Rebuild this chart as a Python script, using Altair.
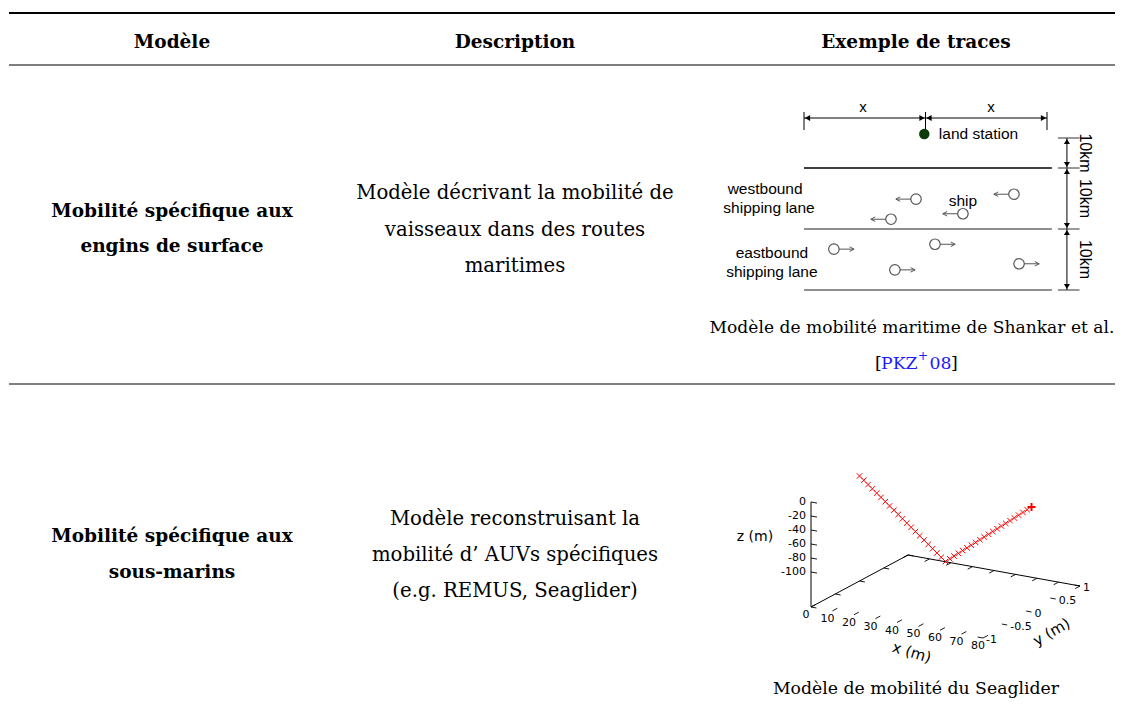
import altair as alt
import pandas as pd

MARGIN = 8
CHART_W = 1107
CHART_H = 690

SERIF = "DejaVu Serif"
SANS = "Liberation Sans"
PLOT_FONT = "DejaVu Sans"

# ---------------- table content ----------------
HEADERS = ["Modèle", "Description", "Exemple de traces"]
MODEL_ROW1 = ["Mobilité spécifique aux", "engins de surface"]
MODEL_ROW2 = ["Mobilité spécifique aux", "sous-marins"]
DESC_ROW1 = ["Modèle décrivant la mobilité de", "vaisseaux dans des routes", "maritimes"]
DESC_ROW2 = ["Modèle reconstruisant la", "mobilité d’ AUVs spécifiques", "(e.g. REMUS, Seaglider)"]
CAPTION_ROW1 = "Modèle de mobilité maritime de Shankar et al."
CITATION = ["[", "PKZ", "+", "08", "]"]
CAPTION_ROW2 = "Modèle de mobilité du Seaglider"

# ---------------- maritime diagram (schematic units) ----------------
# x: 0..100 across the diagram (land station in the middle), y: km below the first lane line
LANE_LINES_KM = [0, 10, 20]
DIM_TICKS_KM = [-10, 0, 10, 20]
DIM_SEGMENTS = ["10km", "10km", "10km"]
X_DIM_MARKS = [0, 50, 100]
X_DIM_LABELS = ["x", "x"]
WEST_SHIP_X = [46.1, 35.8, 86.4, 65.4]
WEST_SHIP_Y = [5.1, 8.4, 4.3, 7.5]
EAST_SHIP_X = [12.3, 53.9, 37.4, 88.5]
EAST_SHIP_Y = [13.3, 12.5, 16.7, 15.7]
LANE_NAMES = ["westbound", "shipping lane", "eastbound", "shipping lane"]
STATION_LABEL = "land station"
SHIP_LABEL = "ship"

# ---------------- seaglider trajectory ----------------
GLIDER_X = [0, 2, 4, 6, 8, 10, 12, 14, 16, 18, 20, 22, 24, 26, 28, 30, 32, 34, 36, 38, 40,
            42, 44, 46, 48, 50, 52, 54, 56, 58, 60, 62, 64, 66, 68, 70, 72, 74, 76, 78, 80]
GLIDER_Y = [0, 0, 0, 0, 0, 0, 0, 0, 0, 0, 0, 0, 0, 0, 0, 0, 0, 0, 0, 0, 0,
            0, 0, 0, 0, 0, 0, 0, 0, 0, 0, 0, 0, 0, 0, 0, 0, 0, 0, 0, 0]
GLIDER_Z = [0, -5, -10, -15, -20, -25, -30, -35, -40, -45, -50, -55, -60, -65, -70, -75, -80,
            -85, -90, -95, -100, -95, -90, -85, -80, -75, -70, -65, -60, -55, -50, -45, -40,
            -35, -30, -25, -20, -15, -10, -5, 0]
X_TICKS = [0, 10, 20, 30, 40, 50, 60, 70, 80]
Y_TICKS = [-1, -0.5, 0, 0.5, 1]
Z_TICKS = [0, -20, -40, -60, -80, -100]
AXIS_TITLES = ["x (m)", "y (m)", "z (m)"]

# ================= layout (page pixel positions) =================
COL_X = [172, 515, 916]
CAPTION1_X = 912
HEADER_BASE = 48
MODEL_BASE = [[217, 252], [542, 578]]
DESC_BASE = [[199, 235.5, 272], [525, 561, 597]]
CAPTION_BASE = [333, 694]
CITE_BASE = 369
CITE_SUP_BASE = 360
CITE_LEFT = [875, 881, 918, 929.5, 951]
TABLE_RULES = [(13, 2.0), (65, 1.2), (384, 1.2)]
RULE_X = (9, 1123)


def px(field):
    return alt.X(field, type="quantitative", axis=None,
                 scale=alt.Scale(domain=[MARGIN, MARGIN + CHART_W], range=[0, CHART_W], nice=False, zero=False))


def py(field):
    return alt.Y(field, type="quantitative", axis=None,
                 scale=alt.Scale(domain=[MARGIN, MARGIN + CHART_H], range=[0, CHART_H], nice=False, zero=False))


def page_text(rows, size, weight="normal", color="black", align="center"):
    df = pd.DataFrame(rows, columns=["text", "px", "py"])
    return alt.Chart(df).mark_text(font=SERIF, fontSize=size, fontWeight=weight, color=color,
                                   align=align, baseline="alphabetic").encode(
        x=px("px"), y=py("py"), text="text:N")


bold_rows = [(h, COL_X[i], HEADER_BASE) for i, h in enumerate(HEADERS)]
for lines, bases in zip([MODEL_ROW1, MODEL_ROW2], MODEL_BASE):
    bold_rows += [(t, COL_X[0], b) for t, b in zip(lines, bases)]
desc_rows = []
for lines, bases in zip([DESC_ROW1, DESC_ROW2], DESC_BASE):
    desc_rows += [(t, COL_X[1], b) for t, b in zip(lines, bases)]
caption1_rows = [(CAPTION_ROW1, CAPTION1_X, CAPTION_BASE[0])]
caption2_rows = [(CAPTION_ROW2, COL_X[2], CAPTION_BASE[1])]

cite_black = [(CITATION[0], CITE_LEFT[0], CITE_BASE), (CITATION[4], CITE_LEFT[4], CITE_BASE)]
cite_blue = [(CITATION[1], CITE_LEFT[1], CITE_BASE), (CITATION[3], CITE_LEFT[3], CITE_BASE)]
cite_sup = [(CITATION[2], CITE_LEFT[2], CITE_SUP_BASE)]

rules_df = pd.DataFrame([(RULE_X[0], RULE_X[1], y, w) for y, w in TABLE_RULES], columns=["x1", "x2", "y", "w"])
thick = alt.Chart(rules_df[rules_df.w > 1.5]).mark_rule(color="black", strokeWidth=2.0).encode(
    x=px("x1"), x2="x2", y=py("y"))
thin = alt.Chart(rules_df[rules_df.w <= 1.5]).mark_rule(color="black", strokeWidth=1.2).encode(
    x=px("x1"), x2="x2", y=py("y"))

page = alt.layer(
    thick, thin,
    page_text(bold_rows, 18.5, weight="bold"),
    page_text(desc_rows, 19.7),
    page_text(caption1_rows, 17.1),
    page_text(caption2_rows, 17.3),
    page_text(cite_black, 17.3, align="left"),
    page_text(cite_blue, 17.3, color="#1a1aff", align="left"),
    page_text(cite_sup, 12, color="#1a1aff", align="left"),
)

# ================= maritime diagram =================
MX_SCALE = alt.Scale(domain=[0, 100], range=[796, 1039], nice=False, zero=False)
MY_SCALE = alt.Scale(domain=[-14, -10, 0, 10, 20], range=[110, 130, 160, 221, 282], nice=False, zero=False)
DIM_LINE_Y = -14
DIM_TICK_Y = (-15.2, -11.6)
X_LABEL_Y = -16.2
X_LABEL_X = [24.3, 77]
STATION = (49.5, -10.8)
STATION_TEXT_X = 55.5
LANE_END_X = 102
VDIM_X = 108.2
VDIM_TICK_X = (104.5, 113.4)
VDIM_LABEL_X = 115.5
LANE_LABEL_POS = [(-16, 3.4), (-14.4, 6.6), (-13.2, 13.9), (-13.2, 17.0)]
SHIP_LABEL_POS = (65.4, 5.4)


def mx(f):
    return alt.X(f, type="quantitative", axis=None, scale=MX_SCALE)


def my(f):
    return alt.Y(f, type="quantitative", axis=None, scale=MY_SCALE)


lane_df = pd.DataFrame({"y": LANE_LINES_KM, "x1": 0, "x2": LANE_END_X})
lane_first = alt.Chart(lane_df[lane_df.y == LANE_LINES_KM[0]]).mark_rule(color="black", strokeWidth=1.6).encode(
    x=mx("x1"), x2="x2", y=my("y"))
lane_rest = alt.Chart(lane_df[lane_df.y != LANE_LINES_KM[0]]).mark_rule(color="#6a6a6a", strokeWidth=1.3).encode(
    x=mx("x1"), x2="x2", y=my("y"))

hdim_df = pd.DataFrame({"x1": [X_DIM_MARKS[0]], "x2": [X_DIM_MARKS[-1]], "y": [DIM_LINE_Y]})
hdim = alt.Chart(hdim_df).mark_rule(color="black", strokeWidth=1).encode(x=mx("x1"), x2="x2", y=my("y"))
hdim_ticks_df = pd.DataFrame({"x": X_DIM_MARKS, "y1": DIM_TICK_Y[0], "y2": DIM_TICK_Y[1]})
hdim_ticks = alt.Chart(hdim_ticks_df).mark_rule(color="black", strokeWidth=1).encode(
    x=mx("x"), y=my("y1"), y2="y2")
left_tips = pd.DataFrame({"x": X_DIM_MARKS[:2], "y": DIM_LINE_Y})
right_tips = pd.DataFrame({"x": X_DIM_MARKS[1:], "y": DIM_LINE_Y})
hdim_left = alt.Chart(left_tips).mark_point(shape="triangle-left", filled=True, color="black", size=36,
                                            opacity=1, xOffset=3.5).encode(x=mx("x"), y=my("y"))
hdim_right = alt.Chart(right_tips).mark_point(shape="triangle-right", filled=True, color="black", size=36,
                                              opacity=1, xOffset=-3.5).encode(x=mx("x"), y=my("y"))
xlab_df = pd.DataFrame({"text": X_DIM_LABELS, "x": X_LABEL_X, "y": X_LABEL_Y})
xlab = alt.Chart(xlab_df).mark_text(font=SANS, fontSize=15, align="center", baseline="middle").encode(
    x=mx("x"), y=my("y"), text="text:N")

station_df = pd.DataFrame({"x": [STATION[0]], "y": [STATION[1]], "text": [STATION_LABEL], "tx": [STATION_TEXT_X]})
station = alt.Chart(station_df).mark_point(shape="circle", filled=True, color="#0b3a0b", size=110, opacity=1).encode(
    x=mx("x"), y=my("y"))
station_txt = alt.Chart(station_df).mark_text(font=SANS, fontSize=15.5, align="left", baseline="middle").encode(
    x=mx("tx"), y=my("y"), text="text:N")

vdim_df = pd.DataFrame({"x": [VDIM_X], "y1": [DIM_TICKS_KM[0]], "y2": [DIM_TICKS_KM[-1]]})
vdim = alt.Chart(vdim_df).mark_rule(color="black", strokeWidth=1).encode(x=mx("x"), y=my("y1"), y2="y2")
vticks_df = pd.DataFrame({"y": DIM_TICKS_KM, "x1": VDIM_TICK_X[0], "x2": VDIM_TICK_X[1]})
vticks = alt.Chart(vticks_df).mark_rule(color="#333333", strokeWidth=1).encode(x=mx("x1"), x2="x2", y=my("y"))
seg_df = pd.DataFrame({"top": DIM_TICKS_KM[:-1], "bottom": DIM_TICKS_KM[1:], "text": DIM_SEGMENTS, "x": VDIM_X})
seg_df["mid"] = (seg_df["top"] + seg_df["bottom"]) / 2
seg_df["lx"] = VDIM_LABEL_X
up_heads = alt.Chart(seg_df).mark_point(shape="triangle-up", filled=True, color="black", size=36, opacity=1,
                                        yOffset=3.5).encode(x=mx("x"), y=my("top"))
down_heads = alt.Chart(seg_df).mark_point(shape="triangle-down", filled=True, color="black", size=36, opacity=1,
                                          yOffset=-3.5).encode(x=mx("x"), y=my("bottom"))
seg_labels = alt.Chart(seg_df).mark_text(font=SANS, fontSize=16, angle=90, align="center",
                                         baseline="middle").encode(x=mx("lx"), y=my("mid"), text="text:N")

lane_lab_df = pd.DataFrame({"text": LANE_NAMES, "x": [p[0] for p in LANE_LABEL_POS],
                            "y": [p[1] for p in LANE_LABEL_POS]})
lane_labels = alt.Chart(lane_lab_df).mark_text(font=SANS, fontSize=15.5, align="center", baseline="middle").encode(
    x=mx("x"), y=my("y"), text="text:N")
ship_lab = alt.Chart(pd.DataFrame({"text": [SHIP_LABEL], "x": [SHIP_LABEL_POS[0]], "y": [SHIP_LABEL_POS[1]]})).mark_text(
    font=SANS, fontSize=15.5, align="center", baseline="middle").encode(x=mx("x"), y=my("y"), text="text:N")

west_df = pd.DataFrame({"x": WEST_SHIP_X, "y": WEST_SHIP_Y})
east_df = pd.DataFrame({"x": EAST_SHIP_X, "y": EAST_SHIP_Y})
SHIP_GRAY = "#555555"
ship_layers = []
for df, sgn in [(west_df, -1), (east_df, 1)]:
    ship_layers.append(alt.Chart(df).mark_rule(color=SHIP_GRAY, strokeWidth=1, xOffset=sgn * 5,
                                               x2Offset=sgn * 20).encode(x=mx("x"), x2="x", y=my("y")))
    head = "M1,-1L-1,0L1,1" if sgn < 0 else "M-1,-1L1,0L-1,1"
    ship_layers.append(alt.Chart(df).mark_point(shape=head, filled=False, color=SHIP_GRAY, size=20, strokeWidth=1,
                                                opacity=1, xOffset=sgn * 18).encode(x=mx("x"), y=my("y")))
    ship_layers.append(alt.Chart(df).mark_point(shape="circle", filled=True, fill="white", stroke=SHIP_GRAY,
                                                strokeWidth=1.2, size=110, opacity=1).encode(x=mx("x"), y=my("y")))

maritime = alt.layer(lane_first, lane_rest, hdim, hdim_ticks, hdim_left, hdim_right, xlab, station, station_txt,
                     vdim, vticks, up_heads, down_heads, seg_labels, lane_labels, ship_lab, *ship_layers)

# ================= seaglider 3D plot =================
EX = (2.15, 0.3875)     # screen px per metre of x
EY = (48.5, -26.0)      # screen px per unit of y
EZ = 0.70               # screen px per metre of z (upwards)
Y_MIN = -1
Z_BASE = -150
X_MAX = 80


def proj(x, y, z):
    return (EX[0] * x + EY[0] * (y - Y_MIN),
            EX[1] * x + EY[1] * (y - Y_MIN) - EZ * (z - Z_BASE))


SX_SCALE = alt.Scale(domain=[0, 300], range=[803, 1103], nice=False, zero=False)
SY_SCALE = alt.Scale(domain=[0, 100], range=[599, 699], nice=False, zero=False)


def sx(f):
    return alt.X(f, type="quantitative", axis=None, scale=SX_SCALE)


def sy(f):
    return alt.Y(f, type="quantitative", axis=None, scale=SY_SCALE)


def seg_frame(segs):
    rows = []
    for a, b in segs:
        x1, y1 = proj(*a)
        x2, y2 = proj(*b)
        rows.append({"x1": x1, "y1": y1, "x2": x2, "y2": y2})
    return pd.DataFrame(rows)


edges = [((0, Y_MIN, Z_BASE), (0, 1, Z_BASE)), ((0, 1, Z_BASE), (X_MAX, 1, Z_BASE)),
         ((0, Y_MIN, Z_TICKS[0]), (0, Y_MIN, Z_BASE))]
ticks = []
for t in X_TICKS:
    ticks.append(((t, 1, Z_BASE), (t, 0.9, Z_BASE)))
    ticks.append(((t, -1, Z_BASE), (t, -0.9, Z_BASE)))
for t in Y_TICKS:
    ticks.append(((0, t, Z_BASE), (2.5, t, Z_BASE)))
    ticks.append(((X_MAX, t, Z_BASE), (X_MAX - 2.5, t, Z_BASE)))
for t in Z_TICKS:
    ticks.append(((0, Y_MIN, t), (2.8, Y_MIN, t)))

edge_layer = alt.Chart(seg_frame(edges)).mark_rule(color="black", strokeWidth=1).encode(
    x=sx("x1"), y=sy("y1"), x2="x2", y2="y2")
tick_layer = alt.Chart(seg_frame(ticks)).mark_rule(color="black", strokeWidth=0.9).encode(
    x=sx("x1"), y=sy("y1"), x2="x2", y2="y2")


def label_frame(points, texts, shift=(0, 0)):
    rows = []
    for p, t in zip(points, texts):
        a, b = proj(*p)
        rows.append({"sx": a + shift[0], "sy": b + shift[1], "text": t})
    return pd.DataFrame(rows)


def fmt(v):
    return str(int(v)) if float(v).is_integer() else str(v)


xl = label_frame([(t, Y_MIN, Z_BASE) for t in X_TICKS], [fmt(t) for t in X_TICKS], (-5, 8))
yl = label_frame([(X_MAX, t, Z_BASE) for t in Y_TICKS], [fmt(t) for t in Y_TICKS], (3, 2))
zl = label_frame([(0, Y_MIN, t) for t in Z_TICKS], [fmt(t) for t in Z_TICKS], (-5, 0))

x_labels = alt.Chart(xl).mark_text(font=PLOT_FONT, fontSize=11, align="center", baseline="middle").encode(
    x=sx("sx"), y=sy("sy"), text="text:N")
y_labels = alt.Chart(yl).mark_text(font=PLOT_FONT, fontSize=11, align="left", baseline="middle").encode(
    x=sx("sx"), y=sy("sy"), text="text:N")
z_labels = alt.Chart(zl).mark_text(font=PLOT_FONT, fontSize=11, align="right", baseline="middle").encode(
    x=sx("sx"), y=sy("sy"), text="text:N")

# axis titles: anchor on the axis, then a screen shift (px)
title_spec = {"x (m)": ((45, Y_MIN, Z_BASE), (4, 28), 17, 15),
              "y (m)": ((X_MAX, 0, Z_BASE), (20, 20), 330, 15),
              "z (m)": ((0, Y_MIN, -50), (-56, 0), 0, 14)}
title_layers = []
for name in AXIS_TITLES:
    p, shift, ang, fs = title_spec[name]
    df = label_frame([p], [name], shift)
    title_layers.append(alt.Chart(df).mark_text(font=PLOT_FONT, fontSize=fs, align="center", baseline="middle",
                                                angle=ang).encode(x=sx("sx"), y=sy("sy"), text="text:N"))

traj = []
for gx, gy, gz in zip(GLIDER_X, GLIDER_Y, GLIDER_Z):
    a, b = proj(gx, gy, gz)
    traj.append({"sx": a, "sy": b})
traj_df = pd.DataFrame(traj)
crosses = alt.Chart(traj_df.iloc[:-1]).mark_point(shape="M-1,-1L1,1M-1,1L1,-1", filled=False, color="#ff0000",
                                                  size=30, strokeWidth=1, opacity=1).encode(x=sx("sx"), y=sy("sy"))
last_pt = alt.Chart(traj_df.iloc[-1:]).mark_point(shape="M-1,0L1,0M0,-1L0,1", filled=False, color="#ff0000",
                                                  size=64, strokeWidth=2, opacity=1).encode(x=sx("sx"), y=sy("sy"))

glider = alt.layer(edge_layer, tick_layer, x_labels, y_labels, z_labels, *title_layers, crosses, last_pt)

chart = alt.layer(page, maritime, glider).resolve_scale(x="independent", y="independent").properties(
    width=CHART_W, height=CHART_H, padding=0, autosize=alt.AutoSizeParams(type="none"),
    background="white").configure_view(stroke=None)

chart.save("out.html", embed_options={"renderer": "svg", "actions": False})
